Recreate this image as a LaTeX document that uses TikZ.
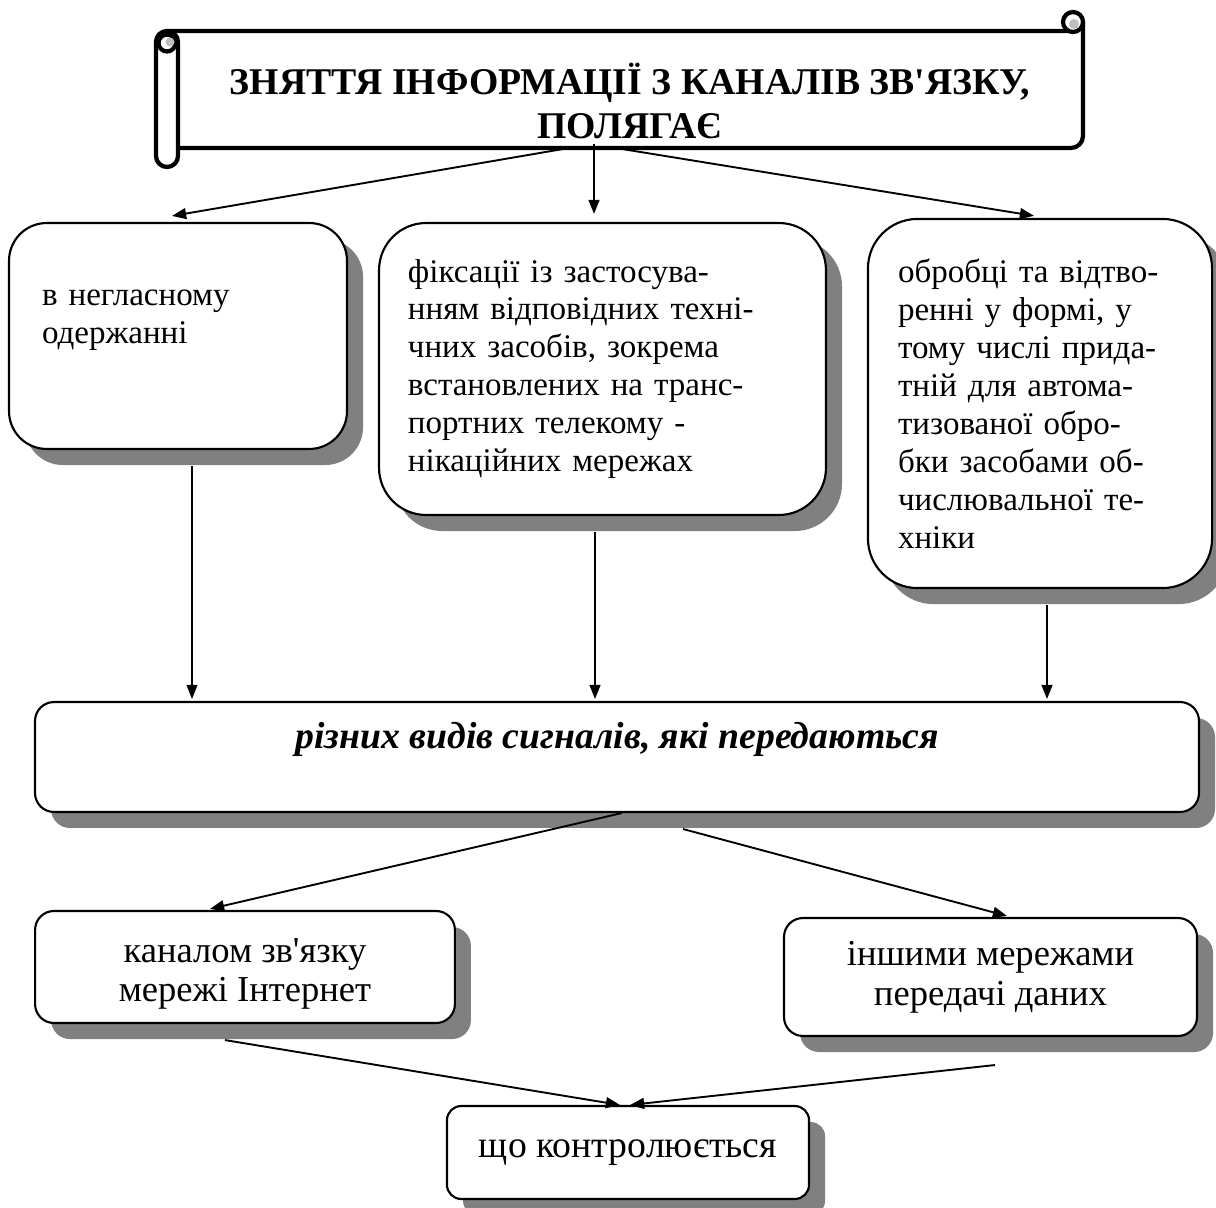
\documentclass[tikz,border=0pt]{standalone}
\usepackage{fontspec}
\setmainfont{Liberation Serif}
\usetikzlibrary{arrows.meta,shadows,calc}

\tikzset{
  box/.style={draw, line width=0.9pt, fill=white, inner sep=0pt,
    font=\fontsize{14}{16.1}\selectfont,
    drop shadow={shadow xshift=6.8pt, shadow yshift=-6.8pt, fill=black!50, opacity=1}},
  bigbox/.style={box, align=left},
  flatbox/.style={box, rounded corners=8pt, align=center},
  arr/.style={line width=0.8pt, -{Triangle[length=6pt, width=4.6pt]}},
  scroll/.style={line width=1.8pt, line join=round},
}

\begin{document}
\begin{tikzpicture}[x=0.424pt, y=-0.424pt]
  \useasboundingbox (0,0) rectangle (1216,1208);
  % scroll
  \draw[scroll, fill=white] (1083,22) -- (1083,136) arc[start angle=0, end angle=90, radius=12]
    -- (168,148) -- (168,31) -- (1073,31);
  \draw[scroll, fill=white] (1073,22) circle[radius=10];
  \fill[black!25] (1074,24) circle[radius=5];
  \draw[scroll, fill=white] (156,42) -- (156,156) arc[start angle=180, end angle=0, radius=11]
    -- (178,42) arc[start angle=0, end angle=-180, radius=11] -- cycle;
  \draw[scroll, fill=white] (167,43) circle[radius=8.5];
  \fill[black!25] (170,42) circle[radius=4.5];
  \node[font=\fontsize{16}{18.4}\selectfont\bfseries, align=center, inner sep=0pt,
    minimum width=384pt, minimum height=39.9pt] (ttl) at (630,101)
    {ЗНЯТТЯ ІНФОРМАЦІЇ З КАНАЛІВ ЗВ\textquotesingle ЯЗКУ,\\ ПОЛЯГАЄ};

  \node[bigbox, rounded corners=16pt, minimum width=143.3pt, minimum height=95.8pt,
    text width=115.3pt] (neg) at (178,336) {в негласному\\ одержанні\\ \mbox{}};
  \node[bigbox, rounded corners=20pt, minimum width=189.5pt, minimum height=123.8pt,
    text width=165pt] (fix) at (602.5,369)
    {фіксації із застосува-\\ нням відповідних техні-\\ чних засобів, зокрема\\
     встановлених на транс-\\ портних телекому -\\ нікаційних мережах};
  \node[bigbox, rounded corners=21pt, minimum width=145.9pt, minimum height=156.5pt,
    text width=120.4pt] (obr) at (1040,403.5)
    {обробці та відтво-\\ ренні у формі, у\\ тому числі прида-\\ тній для автома-\\
     тизованої обро-\\ бки засобами об-\\ числювальної те-\\ хніки};

  \node[flatbox, minimum width=493.5pt, minimum height=46.6pt,
    font=\fontsize{16}{18.4}\selectfont\bfseries\itshape] (sig) at (617,757)
    {різних видів сигналів, які передаються\\ \mbox{}};

  \node[flatbox, minimum width=178pt, minimum height=47.5pt,
    font=\fontsize{15.5}{16.3}\selectfont] (kan) at (245,967)
    {\rule{0pt}{16pt}каналом зв\textquotesingle язку\\ мережі Інтернет};
  \node[flatbox, minimum width=175.1pt, minimum height=50pt,
    font=\fontsize{15.5}{16.8}\selectfont] (inh) at (990.5,977)
    {іншими мережами\\ передачі даних};
  \node[flatbox, rounded corners=6pt, minimum width=153.5pt, minimum height=39.4pt,
    font=\fontsize{16}{18.4}\selectfont] (shcho) at (628,1152.5) {що контролюється};

  \draw[arr] ($(ttl.south)+(-64,0)$) -- ($(neg.north)+(-6,-6)$);
  \draw[arr] ($(ttl.south)+(-36,-5)$) -- ($(fix.north)+(-8.5,-8)$);
  \draw[arr] ($(ttl.south)+(-11,0)$) -- ($(obr.north)+(-6,-2)$);
  \draw[arr] ($(neg.south)+(14,16)$) -- ($(sig.north)+(-425,-2)$);
  \draw[arr] ($(fix.south)+(-7.5,16)$) -- ($(sig.north)+(-22,-2)$);
  \draw[arr] ($(obr.south)+(7,16)$) -- ($(sig.north)+(430,-2)$);
  \draw[arr] ($(sig.south)+(5,0)$) -- ($(kan.north)+(-35,-1)$);
  \draw[arr] ($(sig.south)+(66,16)$) -- ($(inh.north)+(16.5,-1)$);
  \draw[arr] ($(kan.south)+(-20,16)$) -- ($(shcho.north)+(-8,0)$);
  \draw[arr] ($(inh.south)+(4.5,28)$) -- ($(shcho.north)+(2,0)$);
\end{tikzpicture}
\end{document}
